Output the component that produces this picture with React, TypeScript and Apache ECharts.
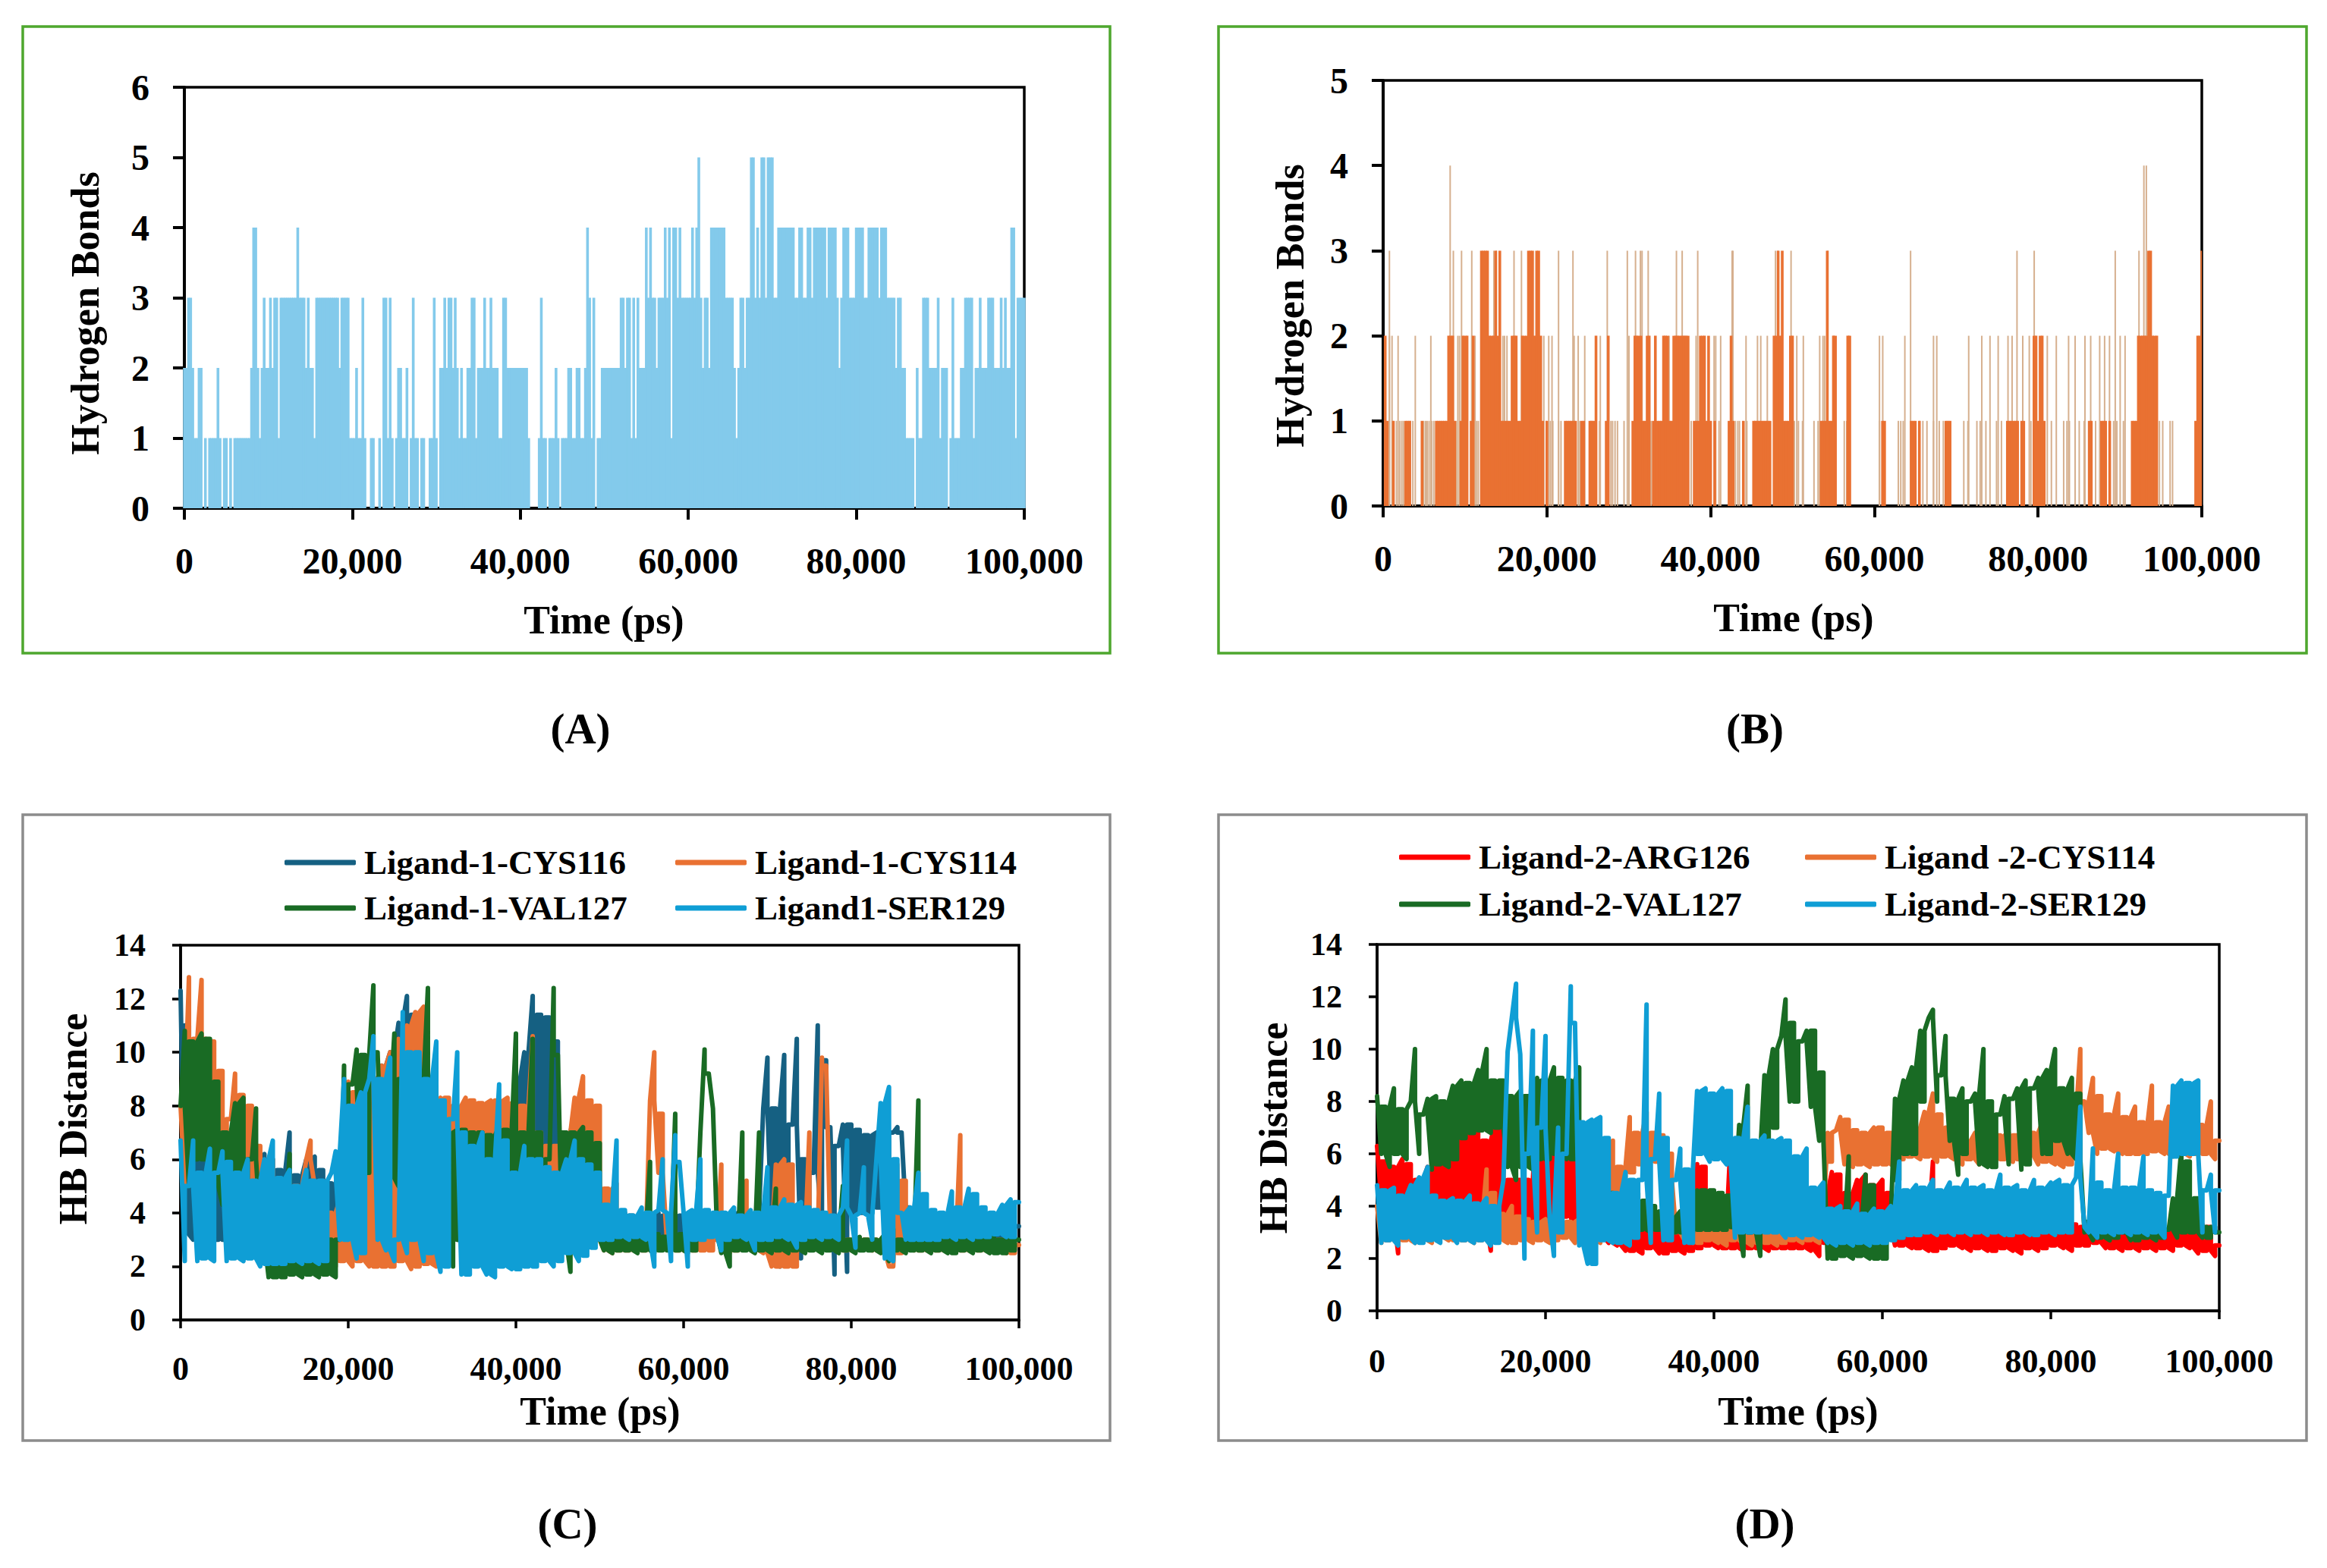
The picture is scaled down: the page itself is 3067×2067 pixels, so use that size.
import React, { useEffect, useRef } from "react";
import * as echarts from "echarts";

// Panel A: hydrogen-bond count, one reading every 250 ps
const hbA = [
  2,2,3,3,2,1,1,2,2,0, 1,0,1,1,1,1,2,1,0,1, 1,0,1,0,1,1,1,1,1,1, 1,1,2,4,4,2,1,2,3,2,
  2,3,2,3,3,1,3,3,3,3, 3,3,3,3,4,3,3,3,2,3, 2,2,1,3,3,3,3,3,3,3, 3,3,3,3,2,3,3,3,3,1,
  1,1,2,1,1,3,1,0,0,1, 1,0,0,1,0,3,3,1,3,1, 0,1,2,2,1,1,2,0,1,3, 1,1,0,1,1,0,0,1,1,3,
  1,0,2,2,3,2,3,3,2,3, 2,1,2,1,1,2,2,3,3,1, 2,2,2,3,2,2,3,2,2,2, 1,1,3,3,2,2,2,2,2,2,
  2,2,2,2,1,0,0,0,0,1, 3,1,1,0,1,1,1,2,1,0, 1,1,1,2,2,1,1,2,2,1, 1,2,4,3,1,3,0,1,1,2,
  2,2,2,2,2,2,2,2,3,3, 2,3,3,1,3,1,3,2,2,2, 4,3,4,3,3,2,3,3,3,4, 3,4,1,4,4,3,4,3,3,3,
  3,3,4,3,4,5,3,2,3,3, 2,4,4,4,4,4,4,4,3,3, 3,3,2,1,2,3,3,2,3,3, 5,5,3,4,3,5,5,3,5,5,
  5,3,3,4,4,4,4,4,4,4, 4,3,3,4,4,3,3,4,4,3, 4,4,4,4,4,4,3,4,4,4, 4,3,2,3,4,4,4,3,3,3,
  4,4,4,4,3,3,4,4,4,4, 4,3,4,4,4,3,3,3,3,2, 3,3,2,2,1,1,1,1,0,2, 1,1,3,3,3,2,2,2,2,3,
  1,2,2,2,0,1,3,1,1,1, 2,2,3,3,3,3,1,2,2,3, 2,2,2,3,3,3,2,2,2,3, 2,3,2,2,4,4,1,3,3,3, 3,
];

// Panel B: solid runs of hydrogen-bond count, one reading every 250 ps
const hbB = [
  0,2,1,0,0,1,0,0,0,0, 0,1,1,1,0,0,0,0,0,1, 0,0,0,0,0,0,1,1,1,1, 1,1,2,2,2,1,0,0,1,2,
  2,2,0,1,2,0,0,0,3,3, 3,3,2,2,2,3,2,3,1,1, 1,1,1,2,2,2,1,1,2,2, 2,3,3,3,2,3,3,2,1,0,
  1,0,0,0,0,0,0,0,0,1, 1,1,1,1,1,0,0,1,1,0, 0,1,1,1,2,0,0,0,0,1, 2,0,0,0,0,0,0,0,0,0,
  0,0,1,2,2,2,2,1,1,2, 2,0,1,2,1,1,1,2,2,2, 1,1,2,2,2,2,2,2,2,2, 0,0,1,1,1,2,2,2,1,2,
  1,0,1,0,0,0,0,0,0,1, 2,1,0,0,0,0,1,0,0,0, 0,1,1,1,1,1,1,1,1,1, 0,2,2,3,2,3,1,1,1,2,
  2,0,0,0,0,0,0,0,0,0, 0,0,0,0,1,1,1,3,1,1, 2,2,0,0,0,0,0,2,2,0, 0,0,0,0,0,0,0,0,0,0,
  0,0,0,0,1,1,0,0,0,0, 0,0,0,0,0,0,0,0,1,1, 1,0,1,0,0,0,0,0,0,0, 0,0,0,0,0,1,1,1,0,0,
  0,0,0,0,0,0,0,0,0,0, 0,0,0,0,0,0,0,0,0,0, 0,0,0,0,0,1,1,1,1,1, 1,0,1,1,0,0,0,0,2,2,
  1,2,2,1,0,0,0,0,0,0, 0,0,0,0,0,0,0,0,0,0, 0,0,0,0,0,1,1,0,0,0, 0,1,1,1,0,1,0,0,0,0,
  0,0,0,0,0,0,1,1,1,2, 2,2,2,2,3,3,2,2,2,0, 0,0,0,0,0,0,0,0,0,0, 0,0,0,0,0,0,0,1,2,2, 3,
];
// Panel B: isolated thin spikes, times in ps
const spikes4 = [8260, 93000, 93300];
const spikes3 = [840,8650,9650,10900,13600,13900,16060,16970,21500,23260,27450,29900,30900,31500,31700,32450,35900,36600,38500,42700,42800,48000,48300,49900,54400,64500,77500,79600,89500,92400];
const spikes2 = [840,1160,1900,4000,5900,9200,9400,10900,11300,14700,14900,15200,19700,20300,20700,23400,23900,24700,26600,30100,35000,38300,40500,40700,41300,44400,45800,46200,47000,50600,51400,53400,53800,54000,55100,57000,60700,61100,63800,67300,67700,71600,73200,74200,75200,76400,76900,78200,79000,81200,82300,83800,84600,85800,86500,87600,88200,88800,90100,90700];
const spikes1 = [1260,1700,2100,2350,2550,3400,3700,5030,5260,5450,5680,6000,6260,9000,11500,11700,20000,20500,20800,21500,21800,24100,25500,26500,27900,28100,28400,28700,29500,32800,37700,41100,43100,43400,43600,44500,45500,50300,50800,51300,52700,53200,56400,56700,60700,63000,63300,63600,65600,66000,66500,67300,68000,68500,71000,71500,72600,73000,73700,75000,75600,79200,81700,83200,83600,83900,84600,85100,85700,87100,89300,89700,90500,94900,95300,96200,96500];

// Panel C: HB distance, one reading every 500 ps, ten rows of 10,000 ps
const cCys116 = [
  12.3,3.2,11,3,9,3,8,3,7.5,3, 7,3,6.5,3,6.2,3,6,3,5.8,3,
  6.2,2.6,6,2.6,5.6,2.8,7,2.8,5.4,3, 6,3,6.1,2.8,5.6,2.6,5.1,2.8,5.9,3,
  7,3,8,3,8.5,3,9,3,9.5,3, 10,3,11.1,3,12.1,4,11.4,3,11.3,3,
  8,3,6,3,7,3,7,3,7,3, 7.4,3,7.5,3,7,3,7.5,3,7,3,
  9,3,10,3,12.1,3,11.4,3,11.3,3, 10.4,3,7,3,7.8,3,7.3,3,6.8,3,
  4.5,3,4.2,3,4,3.1,4,3,3.9,3, 4,3.1,3.9,3,4,3,3.9,3.1,4,3,
  3.9,3,4,3,4,3.1,3.9,3,4,3, 3.9,3,4,3.1,4,3,3.9,3,4,7.9,
  9.8,3.5,7.9,2,9.9,3.5,7.3,10.5,2.3,6, 4,5.5,11,3.5,9.7,7.2,1.7,6.5,7.3,1.8,
  7.3,4,7.1,4,6.9,4,7,4.2,7,4, 7,7.2,7,4,4.2,3,4,3,3.9,3,
  4,3,3.9,3,4,3,3.9,3,4,3, 3.9,3,4,3,3.9,3,4,3,3.9,3, 3.5,
];
const cCys114 = [
  8,5,12.8,7,10.5,12.7,10.5,5,10.4,6, 9.3,3,7.5,9.2,5,8.4,4,8,4,6.5,
  5.5,2.2,6,2,4.5,2,5.5,2.2,5,2, 6,6.7,5,2,4.5,2.1,4,2,4.5,2.2,
  8.9,2,8.5,2.2,8,2,9,2,9.5,2, 10,2,10.5,2.2,11,1.9,11.5,2,11.7,2.1,
  8,2,8.3,2.8,8.3,6,8,6.5,8.3,6.6, 8.2,6.5,8.1,6.4,8.2,6.5,8.2,6.5,8.3,6.6,
  8.1,6,8,5,10.6,5,7,3,6.5,2.5, 6.5,2.6,7,3,8.3,3,9.1,3,8.2,3,
  8,2.6,4.9,2.5,5.1,2.6,3,2.6,3,2.6, 3,2.6,8.2,10,5.5,7.7,3,2.6,3,2.6,
  3,2.6,3,2.6,3,2.6,3,2.6,3,5.8, 3,2.5,3,2.6,3,5.2,3,2.6,3,2.5,
  3,2,5.8,2,6,2,5.8,2,3,3, 7,2.8,3,9.8,9.5,3,3,2.6,3,2.6,
  3,2.6,3,2.7,3,2.6,3,2.6,3,2, 2,5.8,2.5,5.2,3,2.6,3,2.6,3,2.6,
  3,2.6,3,2.6,3,2.6,6.9,2.6,3,2.6, 3,2.6,3,2.6,3,2.6,3,2.5,3,2.5, 2.8,
];
const cVal127 = [
  8,10.8,5,10.4,6,10.7,6,10.5,5,8.9, 4.3,7,4.5,8.1,4.5,8.3,4.5,6,7.9,3.5,
  3,1.6,3.5,1.6,3.5,1.6,6.2,1.7,3.5,1.6, 3.5,1.7,3,1.6,3,1.7,3,1.6,3,9.5,
  6.5,8.8,10.1,5.5,9.9,5.5,12.5,10,5.5,8, 5.3,10.7,5,9,6,8.5,5,9,3,12.4,
  4,8,2.5,5.5,7,2,7.1,3,7.1,4, 7,3,7,2.5,6.9,3,7.2,2.8,7.1,3,
  10.7,3,7,3,10.5,3,7,3,6,12.4, 9.9,3,7,1.8,7,3,7.2,2.8,7,3,
  6.6,2.6,3.2,2.5,3.1,2.6,3.2,2.6,3.1,2.5, 3.2,2.6,5.9,2.5,3.2,2.6,3.1,2.6,7.7,2.6,
  3.2,2.5,3.2,2.6,7,10.1,9.2,7.9,3.2,2.5, 3.1,2,3,2.6,7,2.6,3,2.5,7,2.6,
  3,2.5,4.9,2.6,3,2.5,3.1,2.6,3,2.5, 3,2.6,3.2,2.5,3,2.6,3,2.5,5,2.6,
  3,2.5,3.1,2.6,3,2.6,3,2.5,3.2,2.2, 3.4,2.6,3,2.5,3.1,2.6,8.2,2.6,3.1,2.5,
  3,2.6,3.2,2.5,3.1,2.5,3.3,2.6,3.3,2.5, 3.2,2.6,3.2,2.5,3.1,2.5,3,2.5,3.2,2.6, 3,
];
const cSer129 = [
  6.7,2.2,5,6.7,2.2,5.5,2.3,6.4,2.2,5.5, 6.3,2.2,5.9,2.3,5.5,2.2,6,2.3,5.2,2,
  6,2.1,6.7,2.1,5.3,2.1,5.6,2.2,5,2.1, 5.6,2.2,5.2,2.1,5.2,2.2,5.5,6.3,3,9,
  3,8,2.3,8.5,2.5,9,10.6,3,9,2.6, 9.8,2.2,3,11.5,2.5,10,3,10,2.2,9,
  2.5,10.4,1.8,8.2,2,7.5,10,1.7,7,1.7, 6.5,2,7,1.7,6,1.6,8.8,2,6.7,1.9,
  5.5,1.9,6.5,2,6,2,6,2.2,5.7,2, 5.5,2.2,6,2.5,6.7,2.2,6,2.4,5.8,2.7,
  5.5,3,4.3,3,6.7,3.1,4.1,3,3.9,3.1, 4.2,3,4,2,4.1,6,4,2.2,6.9,5.9,
  4,2,4.1,3,6,3,4.1,3.1,4,2.6, 4,3,4.2,3.1,3.9,3,4.1,2.6,4,3,
  5.7,3,4.2,3.1,4.5,3,4.3,2.7,4.4,3, 4.2,3.1,4.1,3,4,3.1,3.9,3,4.2,6.7,
  3.9,2.7,4,5.7,3.9,3,6,8.1,2.3,8.7, 2.2,6,4,3,4.2,3,5.5,3,4.7,3,
  4.1,3,4,3.1,4.8,3,4.2,3.1,4.9,3, 4.7,3.1,4.2,3.1,4,3.2,4.3,3.1,4.5,3.1, 4.4,
];

// Panel D: HB distance, one reading every 500 ps, ten rows of 10,000 ps
const dArg126 = [
  6.3,4.2,5.7,3.6,5.5,2.2,5.8,3.4,5.6,3.8, 5,3.5,5.5,3.6,5.6,3.8,6,3.8,5.8,3.5,
  6.6,3.6,7,3.5,7.3,3.4,6.5,2.3,7.1,3.6, 7,3.4,5,3,5,3,5,3,7.8,3.5,
  6.5,3,7,3,7,3.6,6.5,3,6,3, 5.5,3,5,2.8,4.5,2.6,3.5,2.5,3,2.3,
  3.2,2.3,3.1,2.2,3.2,2.4,3,2.2,3,2.2, 3,2.3,3.2,2.2,3.3,2.3,5.6,2.4,5.5,2.5,
  3.5,2.4,3.3,2.4,6.6,2.4,3.5,2.3,3.8,2.4, 3.3,2.4,3.5,2.3,4,2.4,4,2.4,4,2.4,
  3.8,2.4,3.6,2.3,3.5,2.1,4.5,2.6,5.3,3, 5.2,3.2,4.5,3,5,3,5.2,3,4.8,3.2,
  5,3.2,4.5,2.5,3.4,2.5,3.3,2.4,3.6,2.4, 3.3,2.3,5.7,2.3,3.3,2.4,3.2,2.5,3.3,2.4,
  3.2,2.3,3.3,2.4,3.2,2.3,3.4,2.3,3.2,2.4, 3.3,2.3,3.4,2.2,3.2,2.4,3.4,2.3,3.3,2.4,
  3.5,2.5,3.2,2.4,3.6,2.3,3.3,2.5,3.2,2.5, 3.4,2.6,3.1,2.4,3.3,2.4,3.2,2.3,3.3,2.4,
  3.2,2.3,3.1,2.4,3.3,2.3,3.2,2.4,3.1,2.3, 4.2,2.5,3.3,2.4,3.2,2.2,3.3,2.3,3.2,2.1, 2.5,
];
const dCys114 = [
  4,2.6,3.4,2.7,3.6,2.6,3.3,2.7,3.5,2.6, 3.4,2.7,3.5,2.6,3.6,2.8,3.5,2.7,3.4,2.7,
  3.5,2.7,3.4,2.6,3.5,2.7,5.4,2.8,4.5,2.7, 3.7,2.6,4,2.6,3.6,2.7,3.5,2.6,3.4,2.7,
  3.5,2.6,3.6,2.7,3.5,2.8,3.4,2.6,3.5,2.7, 3.3,2.7,4,2.6,4.5,3,6.5,3.5,5.5,4.5,
  7.4,5.3,6.8,5.6,7.6,5.7,6.8,5.7,6.7,5, 6,3,3.5,2.7,3.4,2.6,3.3,2.6,3.4,2.7,
  3.5,2.6,3.4,2.5,3.5,2.7,3.4,2.6,3.6,2.5, 3.4,2.6,3.5,2.6,3.4,2.5,3.2,2.6,3.3,2.7,
  3.2,2.6,3.3,2.7,3.4,2.6,3.5,6.8,5.7,6.9, 7.4,5.6,7.3,5.5,6.9,5.6,6.8,5.5,7,5.6,
  7,5.6,6.8,5.5,6.5,5.8,6.8,5.9,7,5.8, 7.6,5.9,8.3,5.7,7.5,5.9,7,5.8,7,5.6,
  6.5,5.8,6.8,5.6,6.6,5.9,6.8,5.8,6.7,5.8, 6.8,5.7,6.7,5.8,7,5.9,6.8,5.6,7.2,5.7,
  7,5.6,7,5.5,7.2,5.6,7.5,10,8,6.8, 8.9,6,8.2,6.2,7.5,6.1,8.3,6,7.4,6,
  7.8,6,7.2,6,8.6,6.1,7.2,6,7.8,5.9, 7,6,7,5.9,7.2,6,7.1,6,8,5.8, 6.5,
];
const dVal127 = [
  8.2,6,7.8,5.5,8.5,6,7.7,5.8,8,10, 6,7.5,8.1,5.4,8.2,5.6,8,5.5,8.6,5.8,
  8.8,6.6,8.7,6.8,9.2,6.9,10,6.8,8.8,7, 8.8,5.5,8.2,5,8.4,5.5,8.2,5.4,8.9,5.8,
  8.8,5.8,9.3,6,8.9,5.8,8.8,5.8,9.3,3.5, 4.5,3,4.6,3.2,4.9,3,4.5,3,4.3,3,
  4.9,3,4.5,3.1,4.2,3,4,3.1,3.8,3, 3.6,3,3.8,3,3.6,3,4.6,3.1,4.6,3.1,
  4.6,3.1,4.5,3.1,4.4,3.2,7.1,2.1,8.6,3, 6,2.1,9,6,10,7,10.5,11.9,8,11,
  8,10.3,10.7,7.8,10.7,6.5,9.1,2,3.2,2, 3,2.1,5.9,2,3.2,2.1,5.2,2,4.8,2,
  3.5,2,3.5,8.1,5,8.8,6,9.3,6,10.7, 8,11.2,11.5,8,9,10.5,6.5,8.1,5.2,8.5,
  6,8,8.3,5.6,10,5.5,8,5.5,7.5,8.2, 5.6,8.1,8.5,5.4,8.8,5.6,8.5,8.9,6,9.2,
  6,10,6.5,8.5,6,8.9,5.8,8.3,3,3.4, 2.7,3.3,2.8,3.2,2.7,3.3,2.8,3.2,3,2.7,
  3,2.7,3.3,2.8,3.2,2.7,3.3,2.8,3.1,4.3, 2.8,6.2,3,5.7,3,4.3,2.8,3.2,2.8,3.2, 3,
];
const dSer129 = [
  4.8,2.6,4.6,2.7,4.7,2.5,4.4,2.8,4.8,2.6, 5.1,2.6,5.5,2.7,4.4,2.6,4.2,2.8,4.3,2.6,
  4.2,2.7,4.4,2.6,4.1,2.7,4.3,2.5,4,2.6, 5,9.9,11.2,12.5,9.8,2,6,10.7,3,7,
  10.5,3.5,2.1,7,3,6,12.4,11,2.5,7.2, 1.8,7.3,1.8,7.4,2.7,6.6,2.6,4.5,2.6,5.3,
  2.5,5,2.8,5,11.7,2.6,5.8,8.3,2.7,6.6, 2.7,5,6.2,2.6,5.4,2.6,8.4,6,8.5,5.7,
  8.3,5.8,8.5,5.6,8.4,2.8,6.6,3,7.8,3, 6.5,3,6.7,3,6.5,3,6.6,2.8,6.5,2.9,
  5.9,2.8,6.2,2.9,4.7,2.8,4.9,2.6,3.9,2.5, 4,2.6,3.8,2.5,4.1,2.6,3.7,2.5,3.9,2.6,
  3.8,2.6,4,2.7,5.7,2.8,4.6,2.9,4.8,2.9, 4.7,3,5,2.9,4.6,3,4.9,2.9,4.7,3,
  5,2.9,4.7,3,4.8,2.9,4.6,3,5.2,2.9, 4.7,2.9,4.8,3,4.6,2.9,5,2.9,4.7,3,
  4.9,2.9,5,3,4.8,3,5.1,7.8,3.2,3, 6.2,2.8,4.9,3,4.6,2.9,6,3,4.7,2.9,
  4.7,3,5.9,2.9,4.6,3,4.5,2.8,4.4,8.6, 5.9,8.8,6,8.7,6,8.8,3,4.6,5.2,3, 4.6,
];

const timeTicks = [0, 20000, 40000, 60000, 80000, 100000];

const FONT = "'Liberation Serif', serif";
const BLUE_DARK = "#156082", ORANGE = "#E97132", GREEN = "#196B24", BLUE = "#0F9ED5", RED = "#FF0000";
const LIGHT_BLUE = "#83CAEB", TAN = "#D6B08F";

const SAMPLE_HB = 250;
const SAMPLE_DIST = 500;
const sampled = (values: number[], step: number) => values.map((v, i) => [i * step, v]);
const spiked = (times: number[], level: number) => times.map((t) => [t, level]);

// The simulation trace oscillates far faster than one reading, so each reading
// is stroked as a vertical stretch that reaches towards its neighbours: a local
// low rises to the lower neighbour, a local high falls to the higher neighbour.
function jitterPath(values: number[], step: number) {
  const out: number[][] = [];
  values.forEach((v, i) => {
    const prev = values[Math.max(i - 1, 0)];
    const next = values[Math.min(i + 1, values.length - 1)];
    let reach = v;
    if (v <= prev && v <= next) reach = Math.min(prev, next);
    else if (v >= prev && v >= next) reach = Math.max(prev, next);
    out.push([i * step, v], [i * step, reach]);
  });
  return out;
}

function axes(gridIndex: number, yMax: number, yStep: number, fontX: number, fontY: number, marginX: number, marginY: number, tick: number, lineW: number) {
  const x = {
    type: "value", gridIndex, min: timeTicks[0], max: timeTicks[timeTicks.length - 1], interval: timeTicks[1],
    splitLine: { show: false },
    axisLine: { show: true, onZero: false, lineStyle: { color: "#000", width: lineW } },
    axisTick: { show: true, length: tick, lineStyle: { color: "#000", width: lineW } },
    axisLabel: {
      margin: marginX, fontFamily: FONT, fontWeight: "bold", fontSize: fontX, color: "#000", hideOverlap: false,
      formatter: (v: number) => v.toLocaleString("en-US"),
    },
  };
  const y = {
    type: "value", gridIndex, min: 0, max: yMax, interval: yStep,
    splitLine: { show: false },
    axisLine: { show: true, lineStyle: { color: "#000", width: lineW } },
    axisTick: { show: true, length: tick, lineStyle: { color: "#000", width: lineW } },
    axisLabel: { margin: marginY, fontFamily: FONT, fontWeight: "bold", fontSize: fontY, color: "#000" },
  };
  return { x, y };
}

function bars(name: string, idx: number, data: number[][], color: string, width: number, z = 2) {
  return {
    name, type: "bar", xAxisIndex: idx, yAxisIndex: idx, data, barWidth: width, barGap: "-100%",
    itemStyle: { color }, large: false, z, silent: true,
  };
}

function trace(name: string, idx: number, values: number[], color: string, z: number) {
  return {
    name, type: "line", xAxisIndex: idx, yAxisIndex: idx, data: jitterPath(values, SAMPLE_DIST),
    showSymbol: false, symbol: "none", z,
    lineStyle: { color, width: 6, cap: "round", join: "round" },
    itemStyle: { color }, silent: true,
  };
}

function legendItem(name: string, left: number, cy: number) {
  return {
    data: [name], left, top: cy - 28, orient: "horizontal", selectedMode: false,
    itemWidth: 94, itemHeight: 7, icon: "roundRect", itemGap: 0,
    padding: 0,
    textStyle: { fontFamily: FONT, fontWeight: "bold", fontSize: 45, color: "#000", padding: [0, 0, 0, 6], lineHeight: 56 },
  };
}

function label(text: string, cx: number, cy: number, size: number, rotated = false) {
  return {
    type: "text", x: cx, y: cy, rotation: rotated ? Math.PI / 2 : 0,
    style: { text, fontFamily: FONT, fontWeight: "bold", fontSize: size, fill: "#000", align: "center", verticalAlign: "middle" },
  };
}

function frame(x0: number, y0: number, x1: number, y1: number, color: string) {
  return {
    type: "rect", shape: { x: x0, y: y0, width: x1 - x0, height: y1 - y0 },
    style: { fill: "none", stroke: color, lineWidth: 3.5 }, z: -1,
  };
}

export default function App() {
  const ref = useRef<HTMLDivElement>(null);
  useEffect(() => {
    const chart = echarts.init(ref.current!, undefined, { renderer: "svg" });
    const a = axes(0, 6, 1, 48, 48, 45, 46, 15, 4);
    const b = axes(1, 5, 1, 48, 48, 45, 46, 15, 4);
    const c = axes(2, 14, 2, 44, 42, 42, 46, 11, 3.5);
    const d = axes(3, 14, 2, 44, 42, 44, 46, 11, 3.5);
    const border = { show: true, borderColor: "#000", borderWidth: 3.5, backgroundColor: "transparent" };
    chart.setOption({
      animation: false,
      backgroundColor: "#fff",
      grid: [
        { left: 243, top: 115, width: 1107, height: 555, ...border },
        { left: 1823, top: 106, width: 1079, height: 561, ...border },
        { left: 238, top: 1246, width: 1105, height: 494, ...border },
        { left: 1815, top: 1245, width: 1110, height: 483, ...border },
      ],
      xAxis: [a.x, b.x, c.x, d.x],
      yAxis: [a.y, b.y, c.y, d.y],
      legend: [
        legendItem("Ligand-1-CYS116", 375, 1137),
        legendItem("Ligand-1-CYS114", 890, 1137),
        legendItem("Ligand-1-VAL127", 375, 1197),
        legendItem("Ligand1-SER129", 890, 1197),
        legendItem("Ligand-2-ARG126", 1844, 1130),
        legendItem("Ligand -2-CYS114", 2379, 1130),
        legendItem("Ligand-2-VAL127", 1844, 1192),
        legendItem("Ligand-2-SER129", 2379, 1192),
      ],
      series: [
        bars("Hydrogen Bonds A", 0, sampled(hbA, SAMPLE_HB), LIGHT_BLUE, 3.6),
        bars("Hydrogen Bonds B thin 4", 1, spiked(spikes4, 4), TAN, 2, 2),
        bars("Hydrogen Bonds B thin 3", 1, spiked(spikes3, 3), TAN, 2, 2),
        bars("Hydrogen Bonds B thin 2", 1, spiked(spikes2, 2), TAN, 2, 2),
        bars("Hydrogen Bonds B thin 1", 1, spiked(spikes1, 1), TAN, 2, 2),
        bars("Hydrogen Bonds B", 1, sampled(hbB, SAMPLE_HB), ORANGE, 3.6, 3),
        trace("Ligand-1-CYS116", 2, cCys116, BLUE_DARK, 2),
        trace("Ligand-1-CYS114", 2, cCys114, ORANGE, 3),
        trace("Ligand-1-VAL127", 2, cVal127, GREEN, 4),
        trace("Ligand1-SER129", 2, cSer129, BLUE, 5),
        trace("Ligand-2-ARG126", 3, dArg126, RED, 2),
        trace("Ligand -2-CYS114", 3, dCys114, ORANGE, 3),
        trace("Ligand-2-VAL127", 3, dVal127, GREEN, 4),
        trace("Ligand-2-SER129", 3, dSer129, BLUE, 5),
      ],
      graphic: { elements: [
        frame(30, 35, 1463, 861, "#4EA72E"),
        frame(1606, 35, 3040, 861, "#4EA72E"),
        frame(30, 1074, 1463, 1899, "#8C8C8C"),
        frame(1606, 1074, 3040, 1899, "#8C8C8C"),
        label("Time (ps)", 796, 817, 52),
        label("Time (ps)", 2364, 814, 52),
        label("Time (ps)", 791, 1860, 52),
        label("Time (ps)", 2370, 1860, 52),
        label("Hydrogen Bonds", 112, 413, 52, true),
        label("Hydrogen Bonds", 1700, 403, 52, true),
        label("HB Distance", 96, 1475, 52, true),
        label("HB Distance", 1678, 1487, 52, true),
        label("(A)", 765, 960, 57),
        label("(B)", 2313, 960, 57),
        label("(C)", 748, 2008, 57),
        label("(D)", 2326, 2008, 57),
      ] },
    });
    return () => chart.dispose();
  }, []);
  return <div ref={ref} style={{ position: "fixed", left: 0, top: 0, width: 3067, height: 2067, background: "#fff" }} />;
}
